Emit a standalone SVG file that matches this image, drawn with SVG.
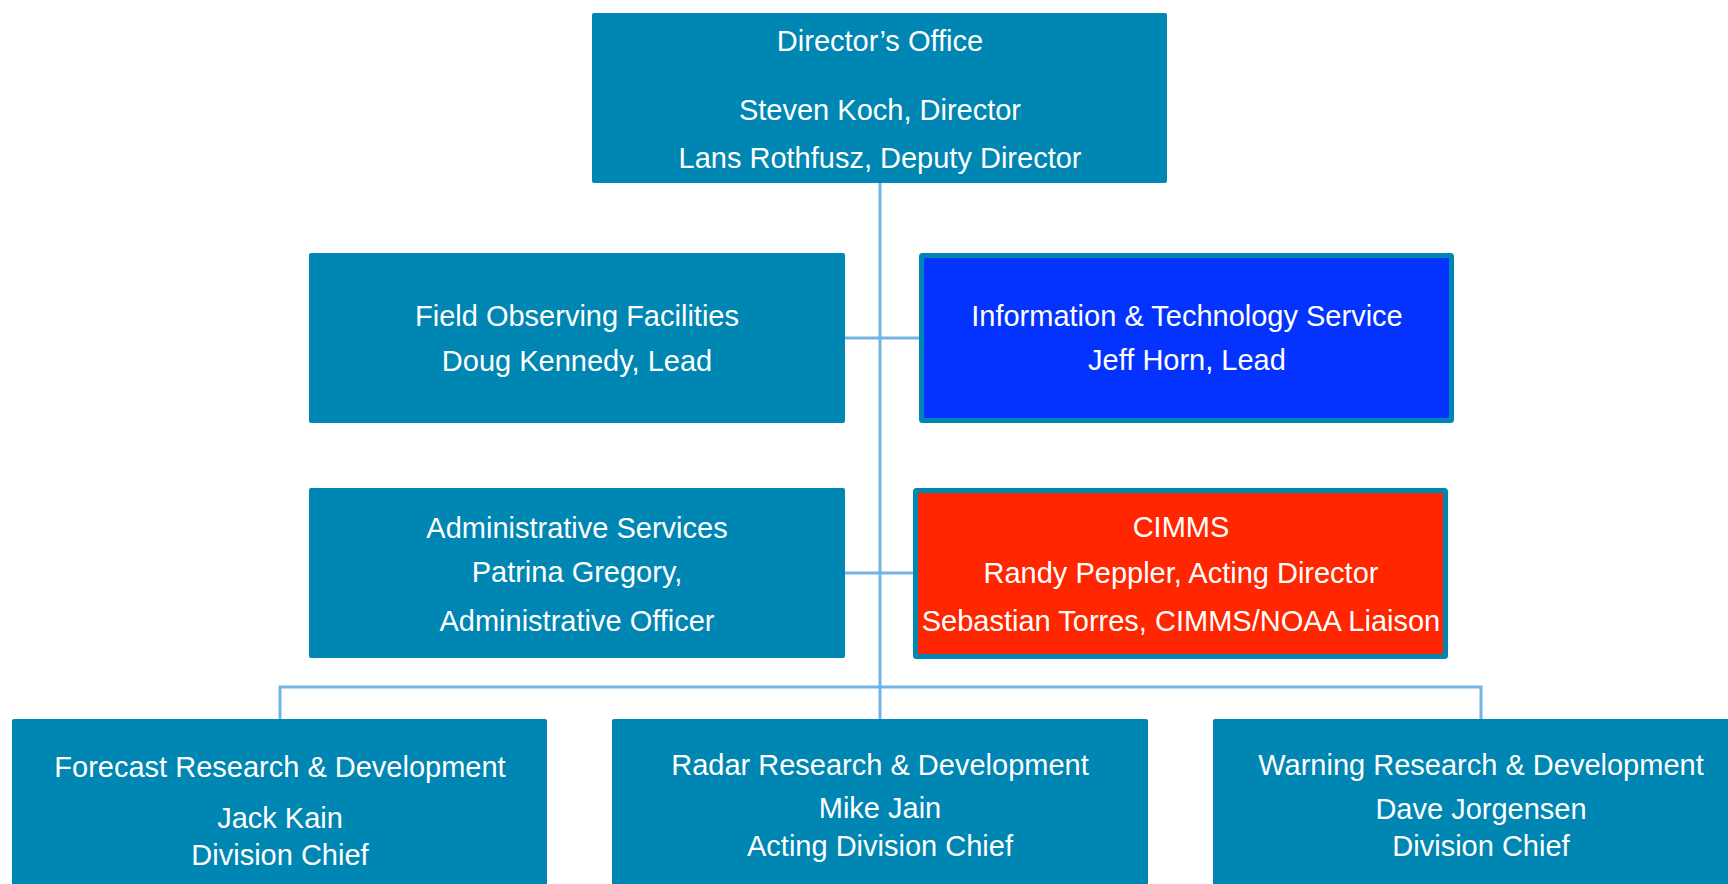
<svg xmlns="http://www.w3.org/2000/svg" width="1728" height="884" viewBox="0 0 1728 884">
<style>
.box{fill:#0086b3;}
.blue{fill:#0433ff;stroke:#0086b3;stroke-width:5;}
.red{fill:#ff2600;stroke:#0086b3;stroke-width:5;}
.t{font-family:"Liberation Sans",Arial,sans-serif;font-size:29px;fill:#ffffff;text-anchor:middle;}
.c{fill:none;stroke:#74b6e3;stroke-width:3;}
</style>
<rect width="1728" height="884" fill="#ffffff"/>
<g id="connectors">
<line class="c" x1="880" y1="183" x2="880" y2="719"/>
<line class="c" x1="845" y1="338" x2="919" y2="338"/>
<line class="c" x1="845" y1="573" x2="913" y2="573"/>
<polyline class="c" points="280,719 280,687 1481,687 1481,719"/>
</g>
<g id="directors-office">
<rect class="box" x="592" y="13" width="575" height="170" rx="2"/>
<text class="t" x="880" y="51">Director’s Office</text>
<text class="t" x="880" y="120">Steven Koch, Director</text>
<text class="t" x="880" y="168">Lans Rothfusz, Deputy Director</text>
</g>
<g id="field-observing">
<rect class="box" x="309" y="253" width="536" height="170" rx="2"/>
<text class="t" x="577" y="326">Field Observing Facilities</text>
<text class="t" x="577" y="371">Doug Kennedy, Lead</text>
</g>
<g id="it-service">
<rect class="blue" x="921.5" y="255.5" width="530" height="165" rx="1"/>
<text class="t" x="1187" y="326">Information &amp; Technology Service</text>
<text class="t" x="1187" y="370">Jeff Horn, Lead</text>
</g>
<g id="admin-services">
<rect class="box" x="309" y="488" width="536" height="170" rx="2"/>
<text class="t" x="577" y="538">Administrative Services</text>
<text class="t" x="577" y="582">Patrina Gregory,</text>
<text class="t" x="577" y="631">Administrative Officer</text>
</g>
<g id="cimms">
<rect class="red" x="915.5" y="490.5" width="530" height="166" rx="1"/>
<text class="t" x="1181" y="537">CIMMS</text>
<text class="t" x="1181" y="583">Randy Peppler, Acting Director</text>
<text class="t" x="1181" y="631">Sebastian Torres, CIMMS/NOAA Liaison</text>
</g>
<g id="forecast-rd">
<rect class="box" x="12" y="719" width="535" height="175" rx="2"/>
<text class="t" x="280" y="777">Forecast Research &amp; Development</text>
<text class="t" x="280" y="828">Jack Kain</text>
<text class="t" x="280" y="865">Division Chief</text>
</g>
<g id="radar-rd">
<rect class="box" x="612" y="719" width="536" height="175" rx="2"/>
<text class="t" x="880" y="775">Radar Research &amp; Development</text>
<text class="t" x="880" y="818">Mike Jain</text>
<text class="t" x="880" y="856">Acting Division Chief</text>
</g>
<g id="warning-rd">
<rect class="box" x="1213" y="719" width="536" height="175" rx="2"/>
<text class="t" x="1481" y="775">Warning Research &amp; Development</text>
<text class="t" x="1481" y="819">Dave Jorgensen</text>
<text class="t" x="1481" y="856">Division Chief</text>
</g>
</svg>
